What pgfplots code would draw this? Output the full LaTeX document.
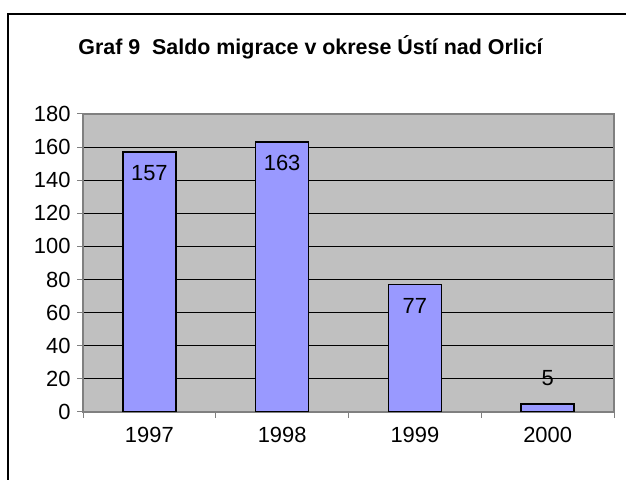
\documentclass[border=0pt]{standalone}
\usepackage{fontspec}
\setmainfont{Liberation Sans}
\usepackage{pgfplots}
\pgfplotsset{compat=1.18}
\definecolor{barblue}{RGB}{153,153,255}
\definecolor{plotgray}{RGB}{192,192,192}
\definecolor{edgegray}{RGB}{128,128,128}

\begin{document}
\begin{tikzpicture}[x=1bp,y=1bp]
\useasboundingbox (0,0) rectangle (626,480);
% frame round the chart (bottom and right fall outside the picture)
\draw[line width=1.5bp] (8,-5) -- (8,466) -- (630,466);
\begin{axis}[
    at={(83bp,68bp)}, anchor=south west,
    scale only axis,
    width=531bp, height=298bp,
    xmin=0.5, xmax=4.5,
    ymin=0, ymax=180,
    ytick={0,20,...,180},
    xtick={1,2,3,4},
    xticklabels={1997,1998,1999,2000},
    minor xtick={0.5,1.5,2.5,3.5,4.5},
    major x tick style={draw=none},
    xtick pos=bottom, ytick pos=left,
    tick align=outside,
    major tick length=6bp,
    minor tick length=6bp,
    tick style={draw=edgegray, line width=1bp},
    ymajorgrids=true,
    grid style={draw=black, line width=0.9bp},
    axis background/.style={fill=plotgray},
    axis line style={draw=edgegray, line width=1.5bp},
    /pgf/number format/assume math mode=true,
    tick label style={font=\fontsize{22}{24}\selectfont},
    yticklabel style={xshift=-3bp},
    xticklabel style={yshift=-6bp},
    title={\textbf{Graf 9\ \ Saldo migrace v okrese Ústí nad Orlicí}},
    title style={at={(0.429,1)}, anchor=center, yshift=61bp, font=\fontsize{21.5}{24}\selectfont},
    ybar, bar width=53bp, bar shift=0pt,
    nodes near coords,
    every node near coord/.append style={font=\fontsize{22}{24}\selectfont, anchor=center},
]
\addplot[fill=barblue, draw=black, line width=1.6bp,
    every node near coord/.append style={yshift=-21bp}]
    coordinates {(1,157) (2,163) (3,77)};
\addplot[fill=barblue, draw=black, line width=1.6bp,
    every node near coord/.append style={yshift=26bp}]
    coordinates {(4,5)};
\end{axis}
\end{tikzpicture}
\end{document}
